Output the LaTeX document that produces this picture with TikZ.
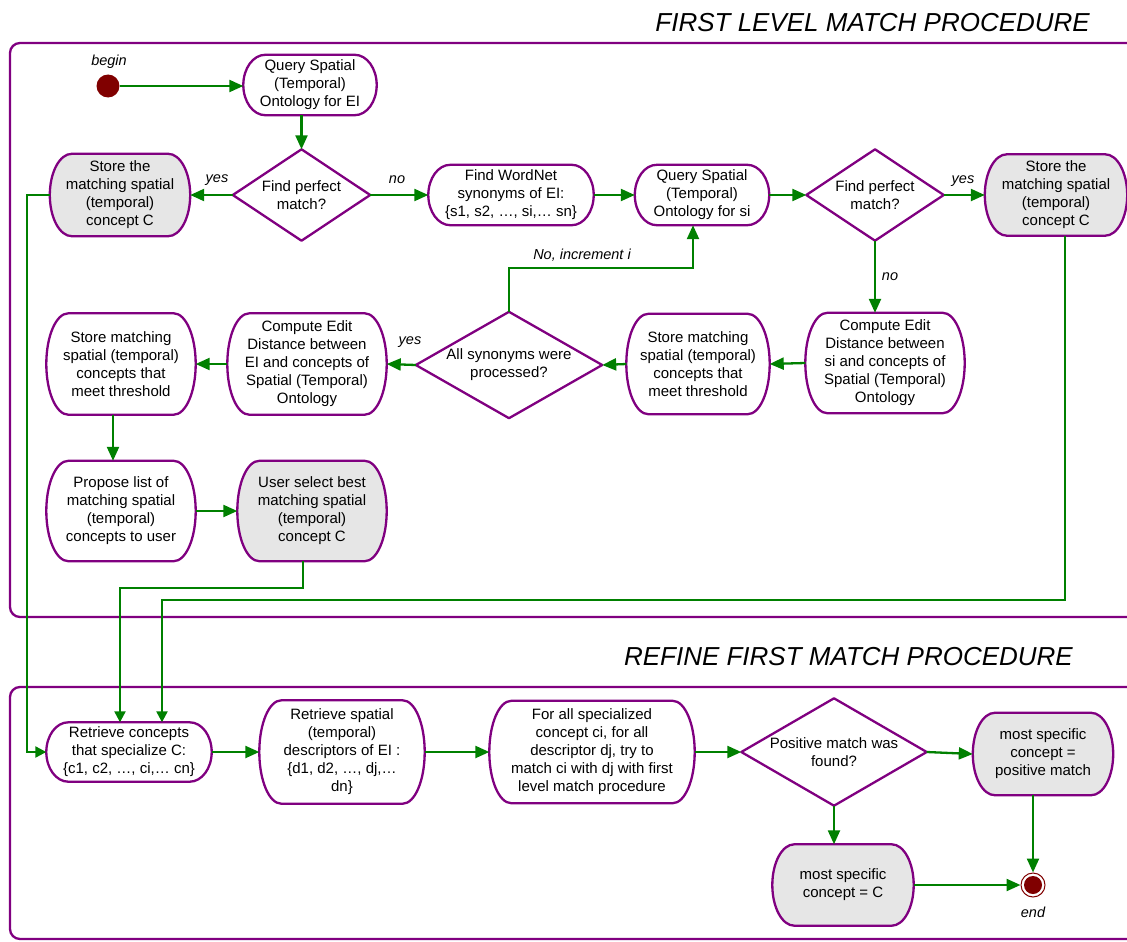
\documentclass[tikz,border=0pt]{standalone}
\usepackage{fontspec}
\setmainfont{Liberation Sans}
\usetikzlibrary{arrows.meta,calc,backgrounds}

\definecolor{framec}{HTML}{800080}
\definecolor{flowgreen}{HTML}{008000}
\definecolor{boxgray}{HTML}{E6E6E6}
\definecolor{dotred}{HTML}{800000}

\newcommand\actfont{\fontsize{15}{18}\selectfont}
\newcommand\lblfont{\fontsize{14.5}{17}\selectfont\itshape}
\newcommand\titlefont{\fontsize{26}{30}\selectfont\itshape}
\newcommand\actr{22pt}

% activity box outline: straight top and bottom, half-ellipse ends
\newcommand\actoutline[2][white]{%
  \draw[boxline,fill=#1] let \p1=(#2.north), \p2=(#2.south), \n1={0.5*(\y1-\y2)} in
    ([xshift=\actr]#2.north west) -- ([xshift=-\actr]#2.north east)
    arc[start angle=90,end angle=-90,x radius=\actr,y radius=\n1]
    -- ([xshift=\actr]#2.south west)
    arc[start angle=270,end angle=90,x radius=\actr,y radius=\n1] -- cycle;}
% decision outline through the four compass anchors
\newcommand\decoutline[1]{%
  \draw[boxline,fill=white] (#1.north) -- (#1.east) -- (#1.south) -- (#1.west) -- cycle;}

\tikzset{
  ph/.style={rectangle, inner sep=0pt, align=center, font=\actfont},
  boxline/.style={draw=framec, line width=2.3pt, line join=round},
  frameline/.style={draw=framec, line width=2.3pt, rounded corners=10pt},
  flow/.style={draw=flowgreen, line width=2.3pt, -{Triangle[length=14pt,width=12pt]}},
  flowsm/.style={flow, -{Triangle[length=11pt,width=11pt]}},
  lbl/.style={font=\lblfont, inner sep=0pt},
  ttl/.style={font=\titlefont, inner sep=0pt, anchor=base east},
}

\begin{document}
\begin{tikzpicture}[x=1pt,y=1pt]
\clip (0,0) rectangle (1127,-942);

% titles
\node[ttl] (t1) at (1090,-32) {FIRST LEVEL MATCH PROCEDURE};
\node[ttl] (t2) at (1073,-665) {REFINE FIRST MATCH PROCEDURE};

% ---- first level match procedure ----
\node[circle, minimum size=23pt, inner sep=0pt, fill=dotred] (begin) at (108,-86) {};
\node[lbl] (beginlbl) at (109,-62) {begin};

\node[ph, minimum width=133, minimum height=60] (n1) at (310,-85) {Query Spatial\\(Temporal)\\Ontology for EI};
\node[ph, minimum width=137, minimum height=91] (d1) at (301.5,-195) {Find perfect\\match?};
\node[ph, minimum width=140, minimum height=82] (s1) at (120,-195) {Store the\\matching spatial\\(temporal)\\concept C};
\node[ph, minimum width=165, minimum height=60] (n2) at (511,-195) {Find WordNet\\synonyms of EI:\\\{s1, s2, …, si,… sn\}};
\node[ph, minimum width=134, minimum height=60] (n3) at (702,-195) {Query Spatial\\(Temporal)\\Ontology for si};
\node[ph, minimum width=137, minimum height=91] (d2) at (875,-195) {Find perfect\\match?};
\node[ph, minimum width=142, minimum height=81] (s2) at (1056,-195) {Store the\\matching spatial\\(temporal)\\concept C};
\node[ph, minimum width=159, minimum height=100] (n4) at (885,-363) {Compute Edit\\Distance between\\si and concepts of\\Spatial (Temporal)\\Ontology};
\node[ph, minimum width=143, minimum height=100] (n5) at (698,-364) {Store matching\\spatial (temporal)\\concepts that\\meet threshold};
\node[ph, minimum width=186, minimum height=106] (d3) at (509,-365) {All synonyms were\\processed?};
\node[ph, minimum width=159, minimum height=101] (n6) at (307,-364) {Compute Edit\\Distance between\\EI and concepts of\\Spatial (Temporal)\\Ontology};
\node[ph, minimum width=149, minimum height=101] (n7) at (121,-364) {Store matching\\spatial (temporal)\\concepts that\\meet threshold};
\node[ph, minimum width=149, minimum height=100] (n8) at (121,-511) {Propose list of\\matching spatial\\(temporal)\\concepts to user};
\node[ph, minimum width=149, minimum height=100] (n9) at (312,-511) {User select best\\matching spatial\\(temporal)\\concept C};

% ---- refine first match procedure ----
\node[ph, minimum width=165, minimum height=59] (r1) at (129,-752) {Retrieve concepts\\that specialize C:\\\{c1, c2, …, ci,… cn\}};
\node[ph, minimum width=165, minimum height=103] (r2) at (342,-752) {Retrieve spatial\\(temporal)\\descriptors of EI :\\\{d1, d2, …, dj,…\\dn\}};
\node[ph, minimum width=205, minimum height=102] (r3) at (592,-752) {For all specialized\\concept ci, for all\\descriptor dj, try to\\match ci with dj with first\\level match procedure};
\node[ph, minimum width=185, minimum height=107] (d4) at (834,-752) {Positive match was\\found?};
\node[ph, minimum width=140, minimum height=82] (m2) at (1043,-754) {most specific\\concept =\\positive match};
\node[ph, minimum width=141, minimum height=81] (m1) at (843,-885) {most specific\\concept = C};
\node[circle, minimum size=24pt, inner sep=0pt, draw=dotred, line width=1pt, fill=white] (endc) at (1033,-885) {};
\fill[dotred] (endc.center) circle (9pt);
\node[lbl] (endlbl) at (1033,-912) {end};

% outlines and frames behind the texts
\begin{scope}[on background layer]
  \draw[frameline] (1160,-43) -- (10,-43) -- (10,-617) -- (1160,-617);
  \draw[frameline] (1160,-687) -- (10,-687) -- (10,-939) -- (1160,-939);
  \actoutline{n1} \actoutline[boxgray]{s1} \actoutline{n2} \actoutline{n3}
  \actoutline[boxgray]{s2} \actoutline{n4} \actoutline{n5} \actoutline{n6}
  \actoutline{n7} \actoutline{n8} \actoutline[boxgray]{n9}
  \actoutline{r1} \actoutline{r2} \actoutline{r3}
  \actoutline[boxgray]{m1} \actoutline[boxgray]{m2}
  \decoutline{d1} \decoutline{d2} \decoutline{d3} \decoutline{d4}
\end{scope}

% connectors
\draw[flow] (begin) -- (begin -| n1.west);
\draw[flow] (n1.south -| d1.north) -- (d1.north);
\draw[flow] (d1.west) -- (s1.east);
\draw[flow] (d1.east) -- (n2.west);
\draw[flow] (n2.east) -- (n3.west);
\draw[flow] (n3.east) -- (d2.west);
\draw[flow] (d2.east) -- (s2.west);
\draw[flow] (d2.south) -- (d2.south |- n4.north);
\draw[flow] (n4.west) -- (n5.east);
\draw[flow] (n5.west) -- (d3.east);
\draw[flow] (d3.west) -- (n6.east);
\draw[flow] (d3.north) |- ([xshift=-9pt,yshift=-43pt]n3.south) -- ([xshift=-9pt]n3.south);
\draw[flow] (n6.west) -- (n7.east);
\draw[flow] ([xshift=-8pt]n7.south) -- ([xshift=-8pt]n8.north);
\draw[flow] (n8.east) -- (n9.west);

\draw[flowsm] (s1.west) -- ++(-23,0) |- (r1.west);
\draw[flowsm] ([xshift=-9pt]n9.south) |- ([xshift=-9pt,yshift=134.5pt]r1.north) -- ([xshift=-9pt]r1.north);
\draw[flowsm] ([xshift=9pt]s2.south) |- ([xshift=33pt,yshift=122.5pt]r1.north) -- ([xshift=33pt]r1.north);

\draw[flow] (r1.east) -- (r2.west);
\draw[flow] (r2.east) -- (r3.west);
\draw[flow] (r3.east) -- (d4.west);
\draw[flow] (d4.east) -- (m2.west);
\draw[flow] (d4.south) -- (d4.south |- m1.north);
\draw[flow] (m1.east) -- (endc.west);
\draw[flow] (m2.south -| endc.north) -- (endc.north);

% branch labels
\node[lbl] (y1) at (217,-180) {yes};
\node[lbl] (no1) at (397,-180) {no};
\node[lbl] (y2) at (963,-181) {yes};
\node[lbl] (no2) at (890,-277) {no};
\node[lbl] (y3) at (410,-342) {yes};
\node[lbl] (inc) at (582,-255) {No, increment i};
\end{tikzpicture}
\end{document}
